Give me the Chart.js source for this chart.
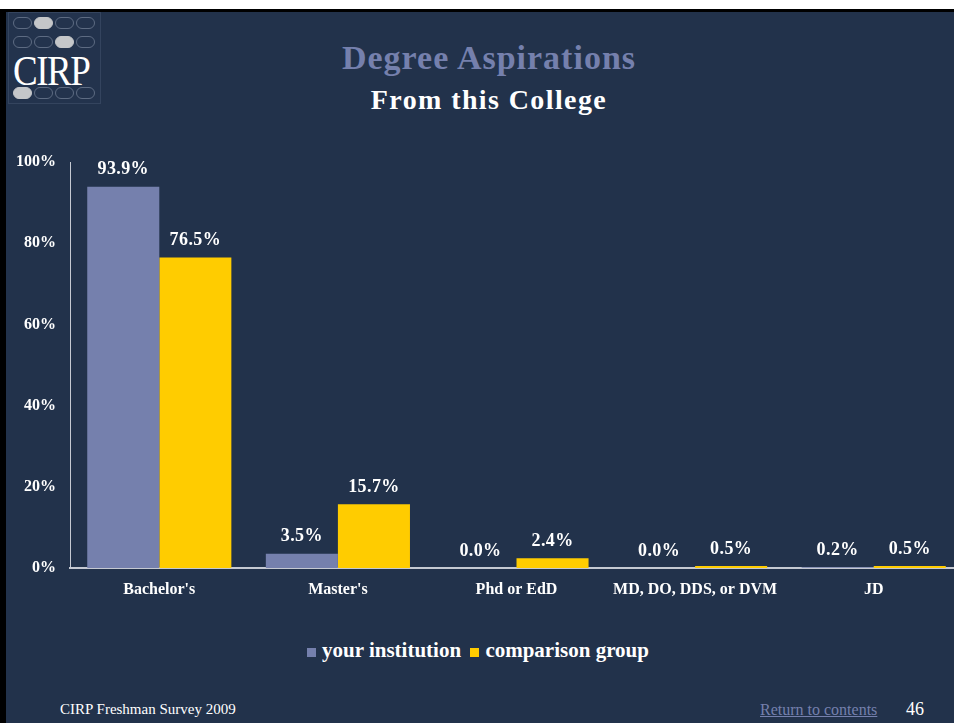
<!DOCTYPE html>
<html>
<head>
<meta charset="utf-8">
<script src="https://cdn.jsdelivr.net/npm/chart.js@4.4.1/dist/chart.umd.min.js"></script>
<style>
    html, body { margin: 0; padding: 0; }
    body { width: 954px; height: 723px; overflow: hidden; background: #fff; position: relative; font-family: "Liberation Serif", serif; }
    #slide { position: absolute; left: 0; top: 9px; width: 954px; height: 714px; background: #22324b; border-top: 3px solid #000; border-left: 6px solid #000; box-sizing: border-box; overflow: hidden; }
    #logo { position: absolute; left: 2px; top: 0; width: 93px; height: 92px; background: #23334d; border: 1px solid #34445e; box-sizing: border-box; }
    .row { position: absolute; left: 4px; display: flex; gap: 2px; }
    .ov { width: 19px; height: 12px; border-radius: 6px; border: 1px solid #5d6b82; box-sizing: border-box; }
    .ov.on { background: #c4c6c9; border-color: #c4c6c9; }
    #cirp { position: absolute; left: 4px; top: 37px; color: #fff; font-size: 37px; line-height: 36px; letter-spacing: -1.5px; transform: scaleY(1.15); transform-origin: left top; }
    #title1 { position: absolute; left: 0; width: 966px; top: 27px; text-align: center; color: #7580ad; font-weight: bold; font-size: 34px; letter-spacing: 1px; }
    #title2 { position: absolute; left: 0; width: 966px; top: 72px; text-align: center; color: #fff; font-weight: bold; font-size: 28px; letter-spacing: 1.4px; }
    #wrap { position: absolute; left: -6px; top: 118px; width: 963px; height: 469px; }
    #legend { position: absolute; left: 0; width: 944px; top: 626px; text-align: center; color: #fff; font-weight: bold; font-size: 21px; }
    #legend span.box { display: inline-block; width: 9px; height: 9px; margin-right: 6px; }
    #footer1 { position: absolute; left: 54px; top: 689px; color: #fff; font-size: 15px; }
    #footer2 { position: absolute; left: 754px; top: 689px; color: #7580ad; font-size: 16px; text-decoration: underline; }
    #footer3 { position: absolute; left: 900px; top: 687px; color: #fff; font-size: 18px; }
</style>
</head>
<body>
<div id="slide">
    <div id="logo">
        <div class="row" style="top:4px"><div class="ov"></div><div class="ov on"></div><div class="ov"></div><div class="ov"></div></div>
        <div class="row" style="top:23px"><div class="ov"></div><div class="ov"></div><div class="ov on"></div><div class="ov"></div></div>
        <div id="cirp">CIRP</div>
        <div class="row" style="top:74px"><div class="ov on"></div><div class="ov"></div><div class="ov"></div><div class="ov"></div></div>
    </div>
    <div id="title1">Degree Aspirations</div>
    <div id="title2">From this College</div>
    <div id="wrap"><canvas id="chart"></canvas></div>
    <div id="legend">
        <span class="box" style="background:#7580ad"></span>your institution
        <span class="box" style="background:#ffcc00; margin-left:4px"></span>comparison group
    </div>
    <div id="footer1">CIRP Freshman Survey 2009</div>
    <div id="footer2">Return to contents</div>
    <div id="footer3">46</div>
</div>
<script>
const categories = ["Bachelor's", "Master's", 'Phd or EdD', 'MD, DO, DDS, or DVM', 'JD'];
const yourInstitution = [93.9, 3.5, 0.0, 0.0, 0.2];
const comparisonGroup = [76.5, 15.7, 2.4, 0.5, 0.5];
const seriesNames = ['your institution', 'comparison group'];

// Value labels above each bar
const barLabels = {
    id: 'barLabels',
    afterDatasetsDraw(chart) {
        const ctx = chart.ctx;
        ctx.save();
        ctx.fillStyle = '#ffffff';
        ctx.font = 'bold 18px "Liberation Serif", serif';
        ctx.letterSpacing = '0.4px';
        ctx.textAlign = 'center';
        ctx.textBaseline = 'middle';
        chart.data.datasets.forEach((ds, i) => {
            chart.getDatasetMeta(i).data.forEach((bar, j) => {
                ctx.fillText(ds.data[j].toFixed(1) + '%', bar.x, bar.y - 17);
            });
        });
        ctx.restore();
    }
};

document.addEventListener('DOMContentLoaded', () => {
    const ctx = document.getElementById('chart').getContext('2d');
    new Chart(ctx, {
        type: 'bar',
        data: {
            labels: categories,
            datasets: [
                { label: seriesNames[0], data: yourInstitution, backgroundColor: '#7580ad' },
                { label: seriesNames[1], data: comparisonGroup, backgroundColor: '#ffcc00' }
            ]
        },
        options: {
            responsive: true,
            maintainAspectRatio: false,
            animation: false,
            categoryPercentage: 0.807,
            barPercentage: 1.0,
            layout: { padding: { top: 32, right: 0, left: 0, bottom: 0 } },
            scales: {
                y: {
                    min: 0, max: 100,
                    ticks: {
                        stepSize: 20,
                        padding: 14,
                        color: '#ffffff',
                        font: { family: '"Liberation Serif", serif', size: 16, weight: 'bold' },
                        callback: v => v + '%'
                    },
                    grid: { display: false, drawTicks: false },
                    border: { color: '#c5c9d2', width: 1 },
                    afterFit: s => { s.width = 70; }
                },
                x: {
                    ticks: {
                        padding: 12,
                        color: '#ffffff',
                        maxRotation: 0,
                        font: { family: '"Liberation Serif", serif', size: 16, weight: 'bold' }
                    },
                    grid: { display: false, drawTicks: false },
                    border: { color: '#c5c9d2', width: 2 },
                    afterFit: s => { s.height = 31; }
                }
            },
            plugins: {
                legend: { display: false },
                tooltip: { enabled: false }
            }
        },
        plugins: [barLabels]
    });
});
</script>
</body>
</html>
